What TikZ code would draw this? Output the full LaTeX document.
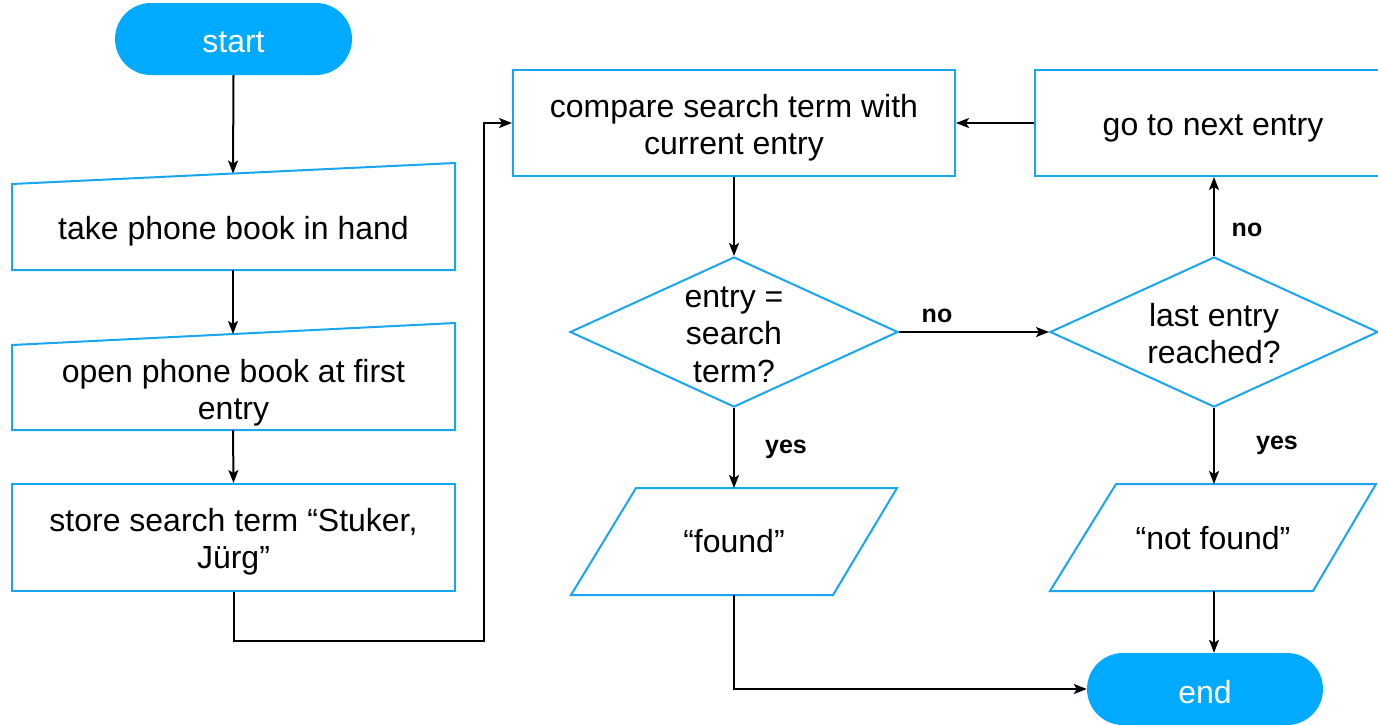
\documentclass[tikz,border=0pt]{standalone}
\usepackage{fontspec}
\setmainfont{Liberation Sans}
\usetikzlibrary{shapes.geometric,arrows.meta}
\definecolor{flowblue}{RGB}{24,166,240}
\definecolor{pillblue}{RGB}{0,170,255}
\tikzset{
  txt/.style={font=\fontsize{32}{37.5}\selectfont, align=center, inner sep=0pt},
  lbl/.style={font=\fontsize{25}{30}\selectfont\bfseries, inner sep=0pt},
  outline/.style={draw=flowblue, line width=2pt, line join=miter},
  procbox/.style={outline, rectangle, inner sep=0pt},
  pill/.style={rectangle, rounded corners=36pt, fill=pillblue, inner sep=0pt,
    minimum width=237pt, minimum height=72pt},
  onpill/.style={txt, text=white},
  decision/.style={outline, diamond, inner sep=0pt, minimum width=328pt, minimum height=150pt},
  arr/.style={draw=black, line width=2pt, -{Stealth[length=13pt,width=10pt,inset=3pt]}},
}
\begin{document}
\begin{tikzpicture}[x=1pt,y=-1pt]
\useasboundingbox (0,0) rectangle (1378,724);

% terminals
\node[pill] (start) at (233.5,39) {};
\node[onpill] (startt) at (233.5,42.5) {start};
\node[pill, minimum width=236pt] (end) at (1205,689) {};
\node[onpill] (endt) at (1205,692.5) {end};

% manual input steps (slanted top edge)
\draw[outline] (12,184) -- (455,163) -- (455,270) -- (12,270) -- cycle;
\node[txt] (take) at (233.5,231) {take phone book in hand};
\coordinate (takeTop) at (233,173.5);
\coordinate (takeBot) at (233,270);

\draw[outline] (12,345) -- (455,323) -- (455,430) -- (12,430) -- cycle;
\node[txt] (open) at (233.5,392.5) {open phone book at first\\entry};
\coordinate (openTop) at (233,334);
\coordinate (openBot) at (233,430);

% process boxes
\node[procbox, minimum width=443pt, minimum height=107pt] (store) at (233.5,537.5) {};
\node[txt] (storet) at (233.5,541.5) {store search term “Stuker,\\Jürg”};
\node[procbox, minimum width=442pt, minimum height=106pt] (compare) at (734,123) {};
\node[txt] (comparet) at (734,127.5) {compare search term with\\current entry};
\node[procbox, minimum width=356pt, minimum height=106pt] (next) at (1213,123) {};
\node[txt] (nextt) at (1213,128.5) {go to next entry};

% decisions
\node[decision] (d1) at (734,332) {};
\node[txt] (d1t) at (734,334.5) {entry =\\search\\term?};
\node[decision] (d2) at (1214,332) {};
\node[txt] (d2t) at (1214,333.5) {last entry\\reached?};

% outputs
\draw[outline] (636,488) -- (897,488) -- (833,595) -- (571,595) -- cycle;
\node[txt] (found) at (734,541.5) {“found”};
\coordinate (foundTop) at (734,488);
\coordinate (foundBot) at (734,595);

\draw[outline] (1116,484) -- (1376,484) -- (1313,591) -- (1050,591) -- cycle;
\node[txt] (notfound) at (1213,538.5) {“not found”};
\coordinate (nfTop) at (1214,484);
\coordinate (nfBot) at (1214,591);

% connectors
\coordinate (loopA) at (484,641);

\draw[arr] (start.south) -- (takeTop);
\draw[arr] (takeBot) -- (openTop);
\draw[arr] (openBot) -- (store.north);
\draw[arr] (store.south) |- (loopA) |- (compare.west);
\draw[arr] (compare.south) -- (d1.north);
\draw[arr] (d1.east) -- (d2.west);
\draw[arr] (d2.north) -- (next.south -| d2.north);
\draw[arr] (next.west) -- (compare.east);
\draw[arr] (d1.south) -- (foundTop);
\draw[arr] (d2.south) -- (nfTop);
\draw[arr] (foundBot) |- (end.west);
\draw[arr] (nfBot) -- (end.north -| nfBot);

% branch labels
\node[lbl] (noA) at (937,316) {no};
\node[lbl] (noB) at (1247,230) {no};
\node[lbl] (yesA) at (786,449) {yes};
\node[lbl] (yesB) at (1277,445) {yes};
\end{tikzpicture}
\end{document}
